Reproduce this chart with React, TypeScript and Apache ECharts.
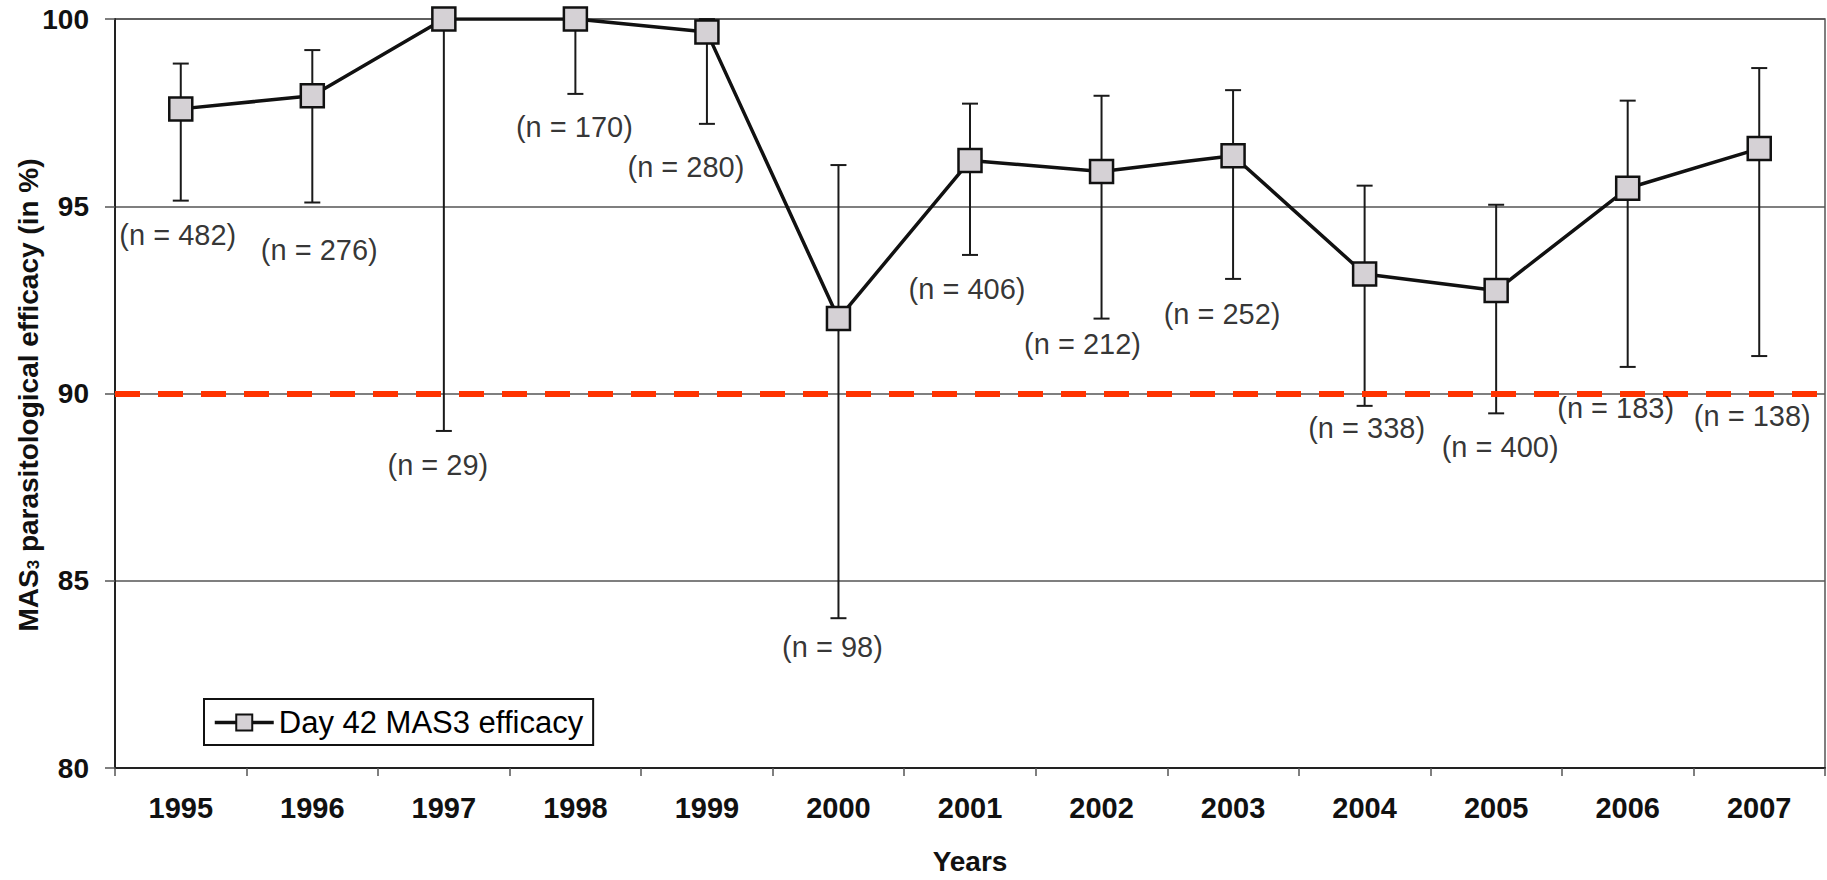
import React, { useEffect, useRef } from "react";
import * as echarts from "echarts";

const years = ["1995", "1996", "1997", "1998", "1999", "2000", "2001", "2002", "2003", "2004", "2005", "2006", "2007"];
const efficacy = [97.6, 97.95, 100, 100, 99.65, 92.0, 96.22, 95.93, 96.35, 93.19, 92.75, 95.48, 96.54];
const ciLow = [95.15, 95.1, 89.0, 98.0, 97.2, 84.0, 93.7, 92.0, 93.06, 89.67, 89.47, 90.71, 91.0];
const ciHigh = [98.81, 99.17, 100, 100, 100, 96.1, 97.74, 97.95, 98.1, 95.55, 95.04, 97.82, 98.69];
const sampleSizes = [482, 276, 29, 170, 280, 98, 406, 212, 252, 338, 400, 183, 138];
const threshold = 90;
const seriesName = "Day 42 MAS3 efficacy";
const yTitle = "MAS{sub|3} parasitological efficacy (in %)";
const xTitle = "Years";

// where each "(n = …)" annotation sits: value on the y axis, and a horizontal shift in px
const nLabelAnchor = [94.23, 93.83, 88.09, 97.12, 96.06, 83.24, 92.8, 91.32, 92.11, 89.09, 88.56, 89.6, 89.41];
const nLabelShift = [-3, 7, -6, -1, -21, -6, -3, -19, -11, 2, 4, -12, -7];

const FONT = "'Liberation Sans', Arial, Helvetica, sans-serif";

export default function App() {
  const ref = useRef<HTMLDivElement>(null);

  useEffect(() => {
    if (!ref.current) return;
    const chart = echarts.init(ref.current, null, { renderer: "svg" });

    const option: any = {
      animation: false,
      backgroundColor: "#ffffff",
      textStyle: { fontFamily: FONT },
      grid: {
        left: 115,
        right: 2,
        top: 19,
        bottom: 106,
        show: true,
        borderColor: "#555",
        borderWidth: 1.5,
        backgroundColor: "transparent",
      },
      graphic: [
        {
          type: "text",
          x: 28,
          y: 395,
          rotation: Math.PI / 2,
          silent: true,
          style: {
            text: yTitle,
            fontSize: 28,
            fontWeight: "bold",
            fontFamily: FONT,
            fill: "#111",
            align: "center",
            verticalAlign: "middle",
            rich: {
              sub: { fontSize: 17, fontWeight: "bold", fontFamily: FONT, fill: "#111", verticalAlign: "bottom" },
            },
          },
        },
      ],
      legend: {
        data: [seriesName],
        left: 204,
        top: 699,
        padding: [8, 10, 7, 9],
        borderColor: "#111",
        borderWidth: 2,
        itemWidth: 59,
        itemHeight: 20,
        lineStyle: { color: "#111", width: 3.5 },
        textStyle: { fontSize: 31, color: "#000", fontFamily: FONT },
      },
      xAxis: {
        type: "category",
        data: years,
        boundaryGap: true,
        axisLine: { lineStyle: { color: "#222", width: 2 } },
        axisTick: { show: true, length: 8, lineStyle: { color: "#555", width: 1.5 } },
        axisLabel: { fontSize: 29, fontWeight: "bold", color: "#111", margin: 25, fontFamily: FONT },
        splitLine: { show: false },
        name: xTitle,
        nameLocation: "middle",
        nameGap: 79,
        nameTextStyle: { fontSize: 28, fontWeight: "bold", color: "#111", fontFamily: FONT },
      },
      yAxis: {
        type: "value",
        min: 80,
        max: 100,
        interval: 5,
        axisLine: { show: true, lineStyle: { color: "#222", width: 2 } },
        axisTick: { show: true, length: 10, lineStyle: { color: "#555", width: 1.5 } },
        axisLabel: { fontSize: 28, fontWeight: "bold", color: "#111", margin: 26, fontFamily: FONT },
        splitLine: { show: true, lineStyle: { color: "#555", width: 1.5 } },
      },
      series: [
        {
          type: "custom",
          name: "errors",
          z: 2,
          data: years.map((_, i) => [i, ciLow[i], ciHigh[i]]),
          encode: { x: 0, y: [1, 2] },
          renderItem: (params: any, api: any) => {
            const lo = api.coord([api.value(0), api.value(1)]);
            const hi = api.coord([api.value(0), api.value(2)]);
            const x = lo[0];
            const w = 8;
            const st = { stroke: "#1a1a1a", lineWidth: 2 };
            return {
              type: "group",
              children: [
                { type: "line", shape: { x1: x, y1: lo[1], x2: x, y2: hi[1] }, style: st },
                { type: "line", shape: { x1: x - w, y1: lo[1], x2: x + w, y2: lo[1] }, style: st },
                { type: "line", shape: { x1: x - w, y1: hi[1], x2: x + w, y2: hi[1] }, style: st },
              ],
            };
          },
        },
        {
          type: "line",
          name: seriesName,
          data: efficacy,
          z: 5,
          symbol: "rect",
          symbolSize: 23,
          lineStyle: { color: "#111", width: 3.5 },
          itemStyle: { color: "#d5d1d5", borderColor: "#111", borderWidth: 2.5 },
          markLine: {
            silent: true,
            symbol: ["none", "none"],
            label: { show: false },
            lineStyle: { color: "#ff3300", type: [25, 18], width: 6 },
            data: [{ yAxis: threshold }],
          },
        },
        {
          type: "scatter",
          name: "n",
          z: 6,
          symbolSize: 1,
          itemStyle: { color: "rgba(0,0,0,0)" },
          data: years.map((_, i) => ({
            value: [i, nLabelAnchor[i]],
            label: { offset: [nLabelShift[i], 0] },
          })),
          label: {
            show: true,
            position: "inside",
            fontSize: 29,
            color: "#000",
            fontFamily: FONT,
            formatter: (p: any) => `(n = ${sampleSizes[p.dataIndex]})`,
          },
        },
      ],
    };

    chart.setOption(option);
    return () => chart.dispose();
  }, []);

  return (
    <div
      ref={ref}
      style={{ position: "absolute", left: 0, top: 0, width: 1827, height: 880, background: "#fff" }}
    />
  );
}
